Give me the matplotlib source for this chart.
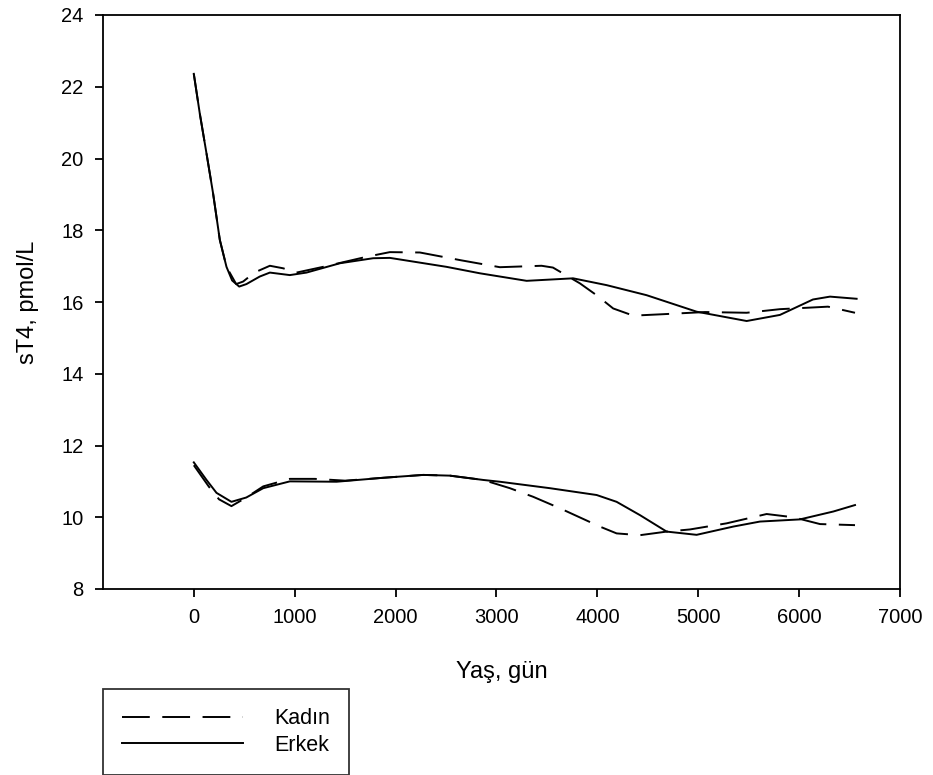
import matplotlib
matplotlib.use('Agg')
import matplotlib.pyplot as plt

plt.rcParams['font.family'] = ['Liberation Sans', 'DejaVu Sans']
plt.rcParams['lines.scale_dashes'] = False

# ===== 数据 =====
# 上组曲线
kadin_ust_x = [0, 59, 126, 191, 258, 324, 420, 489, 600, 754, 885, 1018, 1282, 1712, 1943,
               2241, 2654, 3034, 3447, 3560, 3827, 3992, 4157, 4356, 4653, 5066, 5480,
               5810, 6286, 6554]
kadin_ust_y = [22.36, 21.26, 20.14, 19.03, 17.73, 16.98, 16.50, 16.57, 16.82, 17.01, 16.94,
               16.82, 16.98, 17.26, 17.39, 17.38, 17.16, 16.97, 17.01, 16.96, 16.52, 16.19,
               15.82, 15.62, 15.66, 15.72, 15.70, 15.80, 15.87, 15.70]

erkek_ust_x = [0, 59, 126, 191, 258, 324, 380, 450, 522, 654, 754, 952, 1117, 1448, 1778,
               1943, 2505, 2836, 3299, 3760, 4092, 4488, 4984, 5480, 5810, 6137, 6306, 6570]
erkek_ust_y = [22.36, 21.26, 20.14, 19.03, 17.73, 16.98, 16.60, 16.43, 16.50, 16.71, 16.82,
               16.75, 16.82, 17.08, 17.22, 17.23, 16.98, 16.80, 16.59, 16.66, 16.47, 16.19,
               15.73, 15.47, 15.64, 16.07, 16.15, 16.09]

# 下组曲线
kadin_alt_x = [0, 150, 250, 373, 520, 688, 952, 1200, 1500, 1877, 2274, 2538, 2868, 3133,
               3364, 3629, 4025, 4191, 4422, 4687, 4918, 5281, 5678, 5942, 6207, 6554]
kadin_alt_y = [11.45, 10.85, 10.50, 10.31, 10.55, 10.86, 11.07, 11.07, 11.02, 11.10, 11.18,
               11.16, 11.04, 10.81, 10.57, 10.25, 9.74, 9.55, 9.50, 9.60, 9.66, 9.83, 10.09,
               10.00, 9.81, 9.78]

erkek_alt_x = [0, 126, 225, 373, 520, 688, 952, 1415, 1877, 2274, 2538, 2868, 3034, 3530,
               3993, 4191, 4422, 4687, 4984, 5347, 5612, 6008, 6339, 6554]
erkek_alt_y = [11.53, 11.04, 10.68, 10.43, 10.55, 10.81, 11.00, 10.99, 11.10, 11.18, 11.16,
               11.04, 10.99, 10.81, 10.62, 10.43, 10.06, 9.60, 9.51, 9.74, 9.88, 9.94,
               10.16, 10.34]

x_ticks = [0, 1000, 2000, 3000, 4000, 5000, 6000, 7000]
y_ticks = [8, 10, 12, 14, 16, 18, 20, 22, 24]

# ===== 绘图 =====
fig = plt.figure(figsize=(9.33, 7.75), dpi=100)
ax = fig.add_axes([103 / 933, 186 / 775, 797 / 933, 574 / 775])

dash = (0, (20, 9))
ax.plot(kadin_ust_x, kadin_ust_y, color='black', lw=1.4, linestyle=dash, label='Kadın')
ax.plot(erkek_ust_x, erkek_ust_y, color='black', lw=1.4, label='Erkek')
ax.plot(kadin_alt_x, kadin_alt_y, color='black', lw=1.4, linestyle=dash)
ax.plot(erkek_alt_x, erkek_alt_y, color='black', lw=1.4)

ax.set_xlim(-900, 7000)
ax.set_ylim(8, 24)
ax.set_xticks(x_ticks)
ax.set_yticks(y_ticks)
ax.tick_params(direction='out', length=6, width=1.3, labelsize=14.5, pad=8,
               top=False, right=False)
for s in ax.spines.values():
    s.set_linewidth(1.3)

ax.set_xlabel('Yaş, gün', fontsize=17, labelpad=24)
ax.set_ylabel('sT4, pmol/L', fontsize=17, labelpad=16)

leg = fig.legend(loc='upper left', bbox_to_anchor=(103 / 933, 1 - 689 / 775),
                 fontsize=15.5, frameon=True, fancybox=False, edgecolor='black',
                 handlelength=5.6, handletextpad=1.45, borderpad=0.9,
                 labelspacing=0.25, borderaxespad=0)
leg.get_frame().set_linewidth(1.3)

fig.savefig('out.png', dpi=100)
